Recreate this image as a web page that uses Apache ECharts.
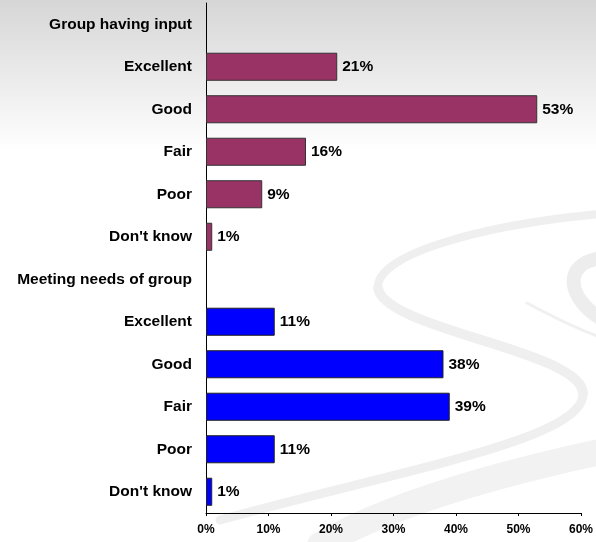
<!DOCTYPE html>
<html><head><meta charset="utf-8">
<script src="https://cdn.jsdelivr.net/npm/echarts@6/dist/echarts.min.js"></script>
<style>html,body{margin:0;padding:0;background:#fff}#c{width:596px;height:542px}</style>
</head><body><div id="c"></div>
<script>
const categories = ['Group having input','Excellent','Good','Fair','Poor',"Don't know",
  'Meeting needs of group','Excellent','Good','Fair','Poor',"Don't know"];
const groupHavingInput = [null, 21, 53, 16, 9, 1, null, null, null, null, null, null];
const meetingNeeds = [null, null, null, null, null, null, null, 11, 38, 39, 11, 1];
const xTicks = [0, 10, 20, 30, 40, 50, 60];

const chart = echarts.init(document.getElementById('c'), null, {renderer:'canvas'});
const F = '"Liberation Sans", Arial, sans-serif';
const sw = '#efefef';
function curve(x1,y1,c1x,c1y,c2x,c2y,x2,y2,w,col){
  return {type:'bezierCurve', z:-10, silent:true,
    shape:{x1:x1,y1:y1,cpx1:c1x,cpy1:c1y,cpx2:c2x,cpy2:c2y,x2:x2,y2:y2},
    style:{stroke:col||sw, lineWidth:w, fill:null, lineCap:'round'}};
}
chart.setOption({
  backgroundColor: {type:'linear', x:0, y:0, x2:0, y2:1, colorStops:[
    {offset:0, color:'#d6d6d6'}, {offset:0.28, color:'#ffffff'}, {offset:1, color:'#ffffff'}]},
  animation: false,
  graphic: [
    curve(600,214, 480,225, 375,255, 378,288, 8),
    curve(378,288, 385,330, 580,350, 583,393, 10),
    curve(583,393, 585,440, 400,470, 220,520, 9),
    curve(600,452, 470,480, 380,510, 320,545, 26, '#f2f2f2'),
    curve(600,258, 560,265, 570,300, 600,318, 14, '#ededed'),
    curve(527,303, 555,318, 580,330, 600,337, 3, '#f0f0f0')
  ],
  grid: {left:206, right:13, top:3, bottom:29, containLabel:false},
  xAxis: {
    type:'value', min:xTicks[0], max:xTicks[xTicks.length-1], interval:10,
    axisLine:{show:true, lineStyle:{color:'#000', width:1}},
    axisTick:{show:true, length:3, lineStyle:{color:'#000'}},
    splitLine:{show:false},
    axisLabel:{formatter:'{value}%', fontFamily:F, fontWeight:'bold', fontSize:12, color:'#000', margin:11}
  },
  yAxis: {
    type:'category', data:categories, inverse:true,
    axisLine:{show:true, lineStyle:{color:'#000', width:1}},
    axisTick:{show:false},
    axisLabel:{fontFamily:F, fontWeight:'bold', fontSize:15.5, color:'#000', margin:14}
  },
  series: [
    {type:'bar', name:'Group having input', stack:'s', data:groupHavingInput, barCategoryGap:'34%',
     itemStyle:{color:'#993366', borderColor:'#333', borderWidth:1},
     label:{show:true, position:'right', distance:5, formatter:'{c}%', fontFamily:F, fontWeight:'bold', fontSize:15.5, color:'#000'}},
    {type:'bar', name:'Meeting needs of group', stack:'s', data:meetingNeeds, barCategoryGap:'34%',
     itemStyle:{color:'#0000ff', borderColor:'#222', borderWidth:1},
     label:{show:true, position:'right', distance:5, formatter:'{c}%', fontFamily:F, fontWeight:'bold', fontSize:15.5, color:'#000'}}
  ]
});
</script></body></html>
